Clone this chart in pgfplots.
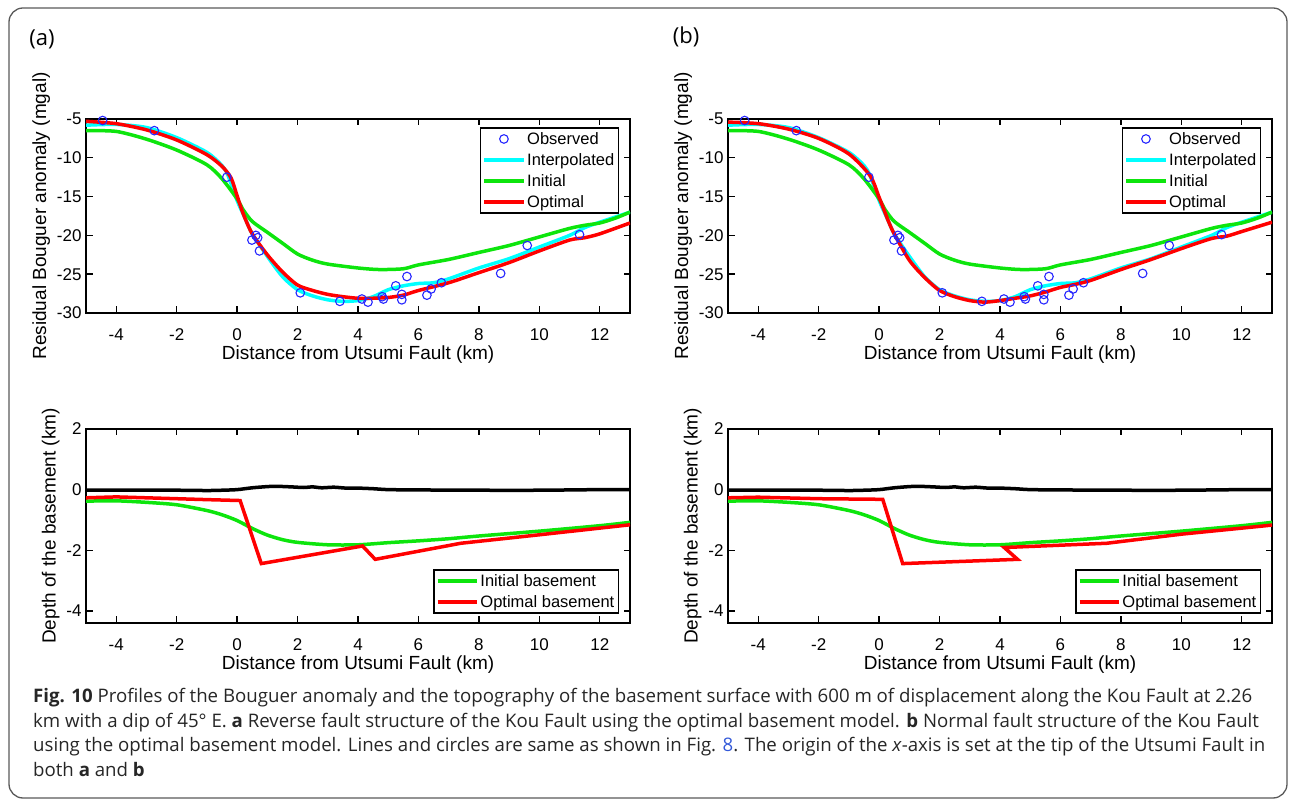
\documentclass[border=0pt]{standalone}
\usepackage{fontspec}
\setmainfont{Liberation Sans}
\newfontfamily\capfont{Open Sans}
\usepackage{pgfplots}
\pgfplotsset{compat=1.18}
\usepackage{pgfplotstable}
\definecolor{mgreen}{rgb}{0.05,0.9,0.05}
\definecolor{mcyan}{rgb}{0,1,1}
\definecolor{linkblue}{rgb}{0.2,0.35,0.85}

\pgfplotstableread{
x y
-4.45 -5.2
-2.74 -6.5
-0.34 -12.5
0.49 -20.6
0.62 -20.0
0.68 -20.3
0.74 -22.0
2.09 -27.4
3.40 -28.5
4.13 -28.2
4.33 -28.6
4.80 -27.9
4.84 -28.2
5.25 -26.5
5.45 -27.6
5.45 -28.3
5.62 -25.3
6.28 -27.7
6.42 -26.9
6.76 -26.1
8.72 -24.9
9.60 -21.3
11.33 -19.9
}\obs
\pgfplotstableread{
x y
-5 -5.8
-4 -5.7
-3 -6.1
-2 -7.4
-1 -9.3
-0.5 -11.0
-0.3 -12.3
0 -15.5
0.3 -18.1
0.5 -19.8
1 -22.7
1.5 -25.3
2 -27.0
2.5 -27.8
3 -28.3
3.5 -28.5
4 -28.4
4.5 -27.9
5 -27.0
5.5 -26.5
6 -26.2
6.5 -26.1
7 -25.6
8 -24.2
9 -23.0
10 -21.5
11 -20.0
11.5 -19.0
12 -18.3
13 -17.0
}\interp
\pgfplotstableread{
x y
-5 -6.5
-4 -6.6
-3 -7.6
-2 -9.0
-1 -10.9
-0.5 -12.7
0 -15.3
0.2 -16.7
0.5 -18.2
1 -19.6
1.5 -21.0
2 -22.4
2.5 -23.2
3 -23.7
4 -24.2
4.7 -24.4
5.5 -24.3
6 -23.8
7 -23.1
8 -22.2
9 -21.3
10 -20.2
11 -19.1
11.5 -18.7
12 -18.4
12.5 -17.8
13 -17.0
}\init
\pgfplotstableread{
x y
-5 -5.3
-4 -5.6
-3 -6.4
-2 -7.7
-1 -9.6
-0.5 -11.1
-0.2 -12.6
0 -14.9
0.2 -17.2
0.5 -19.8
1 -22.5
1.5 -24.7
2 -26.4
2.5 -27.1
3 -27.6
3.5 -27.9
4 -28.1
4.5 -28.1
5 -28.0
5.5 -27.7
6 -27.1
7 -26.1
8 -24.8
9 -23.5
10 -22.0
11 -20.6
11.5 -20.3
12 -19.8
13 -18.4
}\opta
\pgfplotstableread{
x y
-5 -5.4
-4 -5.6
-3 -6.3
-2 -7.5
-1 -9.5
-0.3 -12.3
0 -15.1
0.3 -18.1
0.5 -19.8
1 -23.2
1.5 -25.4
2 -27.1
2.5 -27.9
3 -28.4
3.5 -28.6
4 -28.4
4.5 -28.1
5 -27.8
5.5 -27.3
6 -26.7
6.5 -26.3
7 -25.8
8 -24.4
9 -23.1
10 -21.7
11 -20.4
11.5 -20.1
12 -19.5
13 -18.3
}\optb
\pgfplotstableread{
x y
-5 -0.02
-4 -0.02
-2 -0.02
-1 -0.03
-0.5 -0.02
0 0.0
0.5 0.06
1 0.10
1.3 0.11
1.8 0.09
2.2 0.07
2.5 0.09
2.8 0.06
3.2 0.08
3.6 0.05
4 0.05
4.5 0.03
5 0.0
6 -0.01
8 -0.02
10 -0.02
12 0.0
13 0.0
}\topo
\pgfplotstableread{
x y
-5 -0.38
-4 -0.37
-3 -0.42
-2 -0.50
-1 -0.69
-0.5 -0.83
0 -1.02
0.5 -1.28
1 -1.50
1.5 -1.65
2 -1.74
3 -1.82
4 -1.82
5 -1.75
6 -1.69
7 -1.62
8 -1.53
10 -1.37
12 -1.19
13 -1.08
}\initbase
\pgfplotstableread{
x y
-5 -0.27
-4 -0.24
-3 -0.27
-1 -0.33
0.1 -0.36
0.8 -2.44
4.15 -1.86
4.57 -2.30
7.4 -1.77
10 -1.49
13 -1.16
}\optbasea
\pgfplotstableread{
x y
-5 -0.27
-4 -0.25
-2 -0.30
0.12 -0.32
0.78 -2.44
4.58 -2.30
4.14 -1.91
7.53 -1.77
10 -1.47
13 -1.17
}\optbaseb

\pgfplotsset{
  panel/.style={
    scale only axis, width=544bp, height=194bp,
    xmin=-5, xmax=13, xtick={-4,-2,...,12},
    tick align=inside, major tick length=6.5bp,
    axis line style={line width=1.6bp},
    every tick/.style={black, line width=1.4bp},
    /pgf/number format/assume math mode=true,
    tick label style={font=\fontsize{17bp}{17bp}\selectfont},
    xticklabel style={yshift=-12bp},
    yticklabel style={xshift=-1bp},
    label style={font=\fontsize{19bp}{19bp}\selectfont},
    xlabel={Distance from Utsumi Fault (km)},
    xlabel style={at={(axis description cs:0.5,0)}, anchor=center, yshift=-42bp},
    legend cell align=left,
    legend style={draw=black, line width=1.6bp, font=\fontsize{16.5bp}{16.5bp}\selectfont,
      inner xsep=2bp, inner ysep=2.5bp, row sep=3.5bp},
    legend image code/.code={\draw[mark repeat=2,mark phase=2,##1] plot coordinates {(0bp,0bp) (19.5bp,0bp) (39bp,0bp)};},
  },
  top/.style={panel, ymin=-30, ymax=-5, ytick={-30,-25,...,-5},
    ylabel={Residual Bouguer anomaly (mgal)},
    legend style={at={(0.98,0.959)}, anchor=north east}},
  bot/.style={panel, ymin=-4.4, ymax=2, ytick={-4,-2,0,2},
    ylabel={Depth of the basement (km)},
    legend style={at={(0.98,0.047)}, anchor=south east}},
  obsst/.style={only marks, mark=o, mark size=4.3bp, color=blue!85!white, mark options={line width=1.1bp}},
  cy/.style={color=mcyan, line width=3.5bp},
  gr/.style={color=mgreen, line width=3.5bp},
  rd/.style={color=red, line width=3.5bp},
  bk/.style={color=black, line width=3.5bp},
  sm/.style={smooth, tension=0.45},
}

\begin{document}
\begin{tikzpicture}
\useasboundingbox (0bp,0bp) rectangle (1293bp,801bp);
\draw[line width=1.3bp, black!65, rounded corners=14bp] (9bp,793bp) rectangle (1287bp,3bp);
\node[font=\capfont\fontsize{22bp}{22bp}\selectfont] at (42bp,762bp) {(a)};
\node[font=\capfont\fontsize{22bp}{22bp}\selectfont] at (686bp,764bp) {(b)};

% top left
\begin{axis}[top, at={(86bp,488bp)}, anchor=south west]
\addplot[obsst] table {\obs};
\addplot[cy, sm] table {\interp};
\addplot[gr, sm] table {\init};
\addplot[rd, sm] table {\opta};
\legend{Observed, Interpolated, Initial, Optimal}
\end{axis}
% top right
\begin{axis}[top, at={(728bp,488bp)}, anchor=south west]
\addplot[obsst] table {\obs};
\addplot[cy, sm] table {\interp};
\addplot[gr, sm] table {\init};
\addplot[rd, sm] table {\optb};
\legend{Observed, Interpolated, Initial, Optimal}
\end{axis}
% bottom left
\begin{axis}[bot, at={(86bp,178bp)}, anchor=south west]
\addplot[bk, sm, forget plot] table {\topo};
\addplot[gr, sm] table {\initbase};
\addplot[rd] table {\optbasea};
\legend{Initial basement, Optimal basement}
\end{axis}
% bottom right
\begin{axis}[bot, at={(728bp,178bp)}, anchor=south west]
\addplot[bk, sm, forget plot] table {\topo};
\addplot[gr, sm] table {\initbase};
\addplot[rd] table {\optbaseb};
\legend{Initial basement, Optimal basement}
\end{axis}

\begin{scope}[every node/.style={anchor=base west, inner sep=0pt, font=\capfont\fontsize{18.65bp}{24bp}\selectfont, text=black!85}]
\node at (33bp,98bp) {\textbf{Fig. 10} Profiles of the Bouguer anomaly and the topography of the basement surface with 600 m of displacement along the Kou Fault at 2.26};
\node at (33bp,73bp) {km with a dip of 45° E. \textbf{a} Reverse fault structure of the Kou Fault using the optimal basement model. \textbf{b} Normal fault structure of the Kou Fault};
\node at (33bp,49bp) {using the optimal basement model. Lines and circles are same as shown in Fig. {\color{linkblue}8}. The origin of the \textit{x}-axis is set at the tip of the Utsumi Fault in};
\node at (33bp,25bp) {both \textbf{a} and \textbf{b}};
\end{scope}
\end{tikzpicture}
\end{document}
